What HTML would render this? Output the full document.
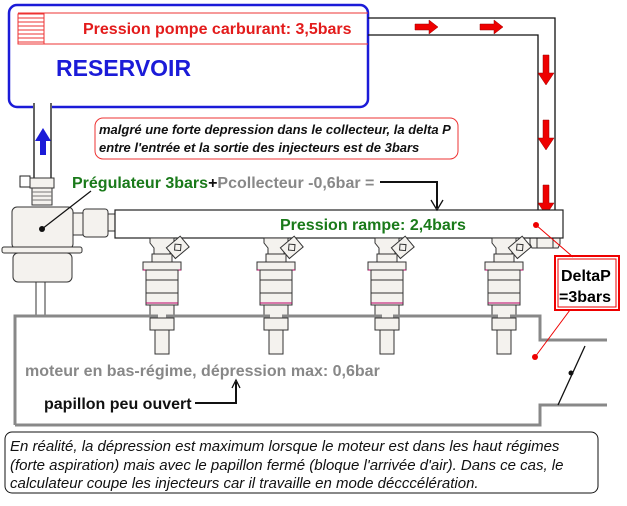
<!DOCTYPE html>
<html><head><meta charset="utf-8"><style>
html,body{margin:0;padding:0;background:#fff}
svg{display:block}
text{font-family:"Liberation Sans",sans-serif}
</style></head><body>
<svg width="627" height="506" viewBox="0 0 627 506" xmlns="http://www.w3.org/2000/svg">
<defs>
<g id="inj">
  <path d="M-12,238 h24 v5 l-4,5 v6 h-16 v-6 l-4,-5z" fill="#f4f2ee" stroke="#333" stroke-width="1"/>
  <rect x="-10" y="254" width="20" height="8" fill="#f4f2ee" stroke="#333"/>
  <g transform="translate(15,248) rotate(-40)"><rect x="-8" y="-7" width="18" height="14" fill="#f4f2ee" stroke="#333"/><rect x="-2" y="-3" width="6" height="6" fill="none" stroke="#333" transform="rotate(45 1 0)"/></g>
  <rect x="-19" y="262" width="38" height="8" fill="#f4f2ee" stroke="#333"/>
  <line x1="-19" y1="270" x2="19" y2="270" stroke="#b06" stroke-width="1"/>
  <rect x="-16" y="270" width="32" height="35" fill="#f4f2ee" stroke="#333"/>
  <line x1="-16" y1="280" x2="16" y2="280" stroke="#333"/>
  <line x1="-16" y1="293" x2="16" y2="293" stroke="#333"/>
  <line x1="-16" y1="303" x2="16" y2="303" stroke="#b06"/>
  <rect x="-12" y="305" width="24" height="25" fill="#f4f2ee" stroke="#333"/>
  <line x1="-12" y1="318" x2="12" y2="318" stroke="#333"/>
  <rect x="-7" y="330" width="14" height="24" fill="#f4f2ee" stroke="#333"/>
</g>
<g id="ra"><path d="M0,-3 h14 v-4 l9,7 l-9,7 v-4 h-14z" fill="#e00" stroke="#900" stroke-width=".5"/></g>
<g id="da"><path d="M-3,0 v18 h-5 l8,12 l8,-12 h-5 v-18z" fill="#e00" stroke="#900" stroke-width=".5"/></g>
</defs>

<!-- reservoir -->
<rect x="9" y="5" width="359" height="102" rx="8" fill="#fff" stroke="#1b1bd8" stroke-width="2.5"/>
<line x1="18" y1="13" x2="368" y2="13" stroke="#e33" stroke-width="1"/>
<line x1="18" y1="44" x2="368" y2="44" stroke="#e33" stroke-width="1"/>
<rect x="18" y="14" width="26" height="30" fill="#fff" stroke="#e33"/>
<g stroke="#e33" stroke-width="1"><line x1="18" y1="18" x2="44" y2="18"/><line x1="18" y1="22" x2="44" y2="22"/><line x1="18" y1="26" x2="44" y2="26"/><line x1="18" y1="30" x2="44" y2="30"/><line x1="18" y1="34" x2="44" y2="34"/><line x1="18" y1="38" x2="44" y2="38"/><line x1="18" y1="42" x2="44" y2="42"/></g>
<text x="83" y="34" font-size="16" font-weight="bold" fill="#e31b1b">Pression pompe carburant: 3,5bars</text>
<text x="56" y="76" font-size="23" font-weight="bold" fill="#1b1bd8">RESERVOIR</text>

<!-- pipe to rail -->
<path d="M368,18 H555 V225" fill="none" stroke="#111" stroke-width="1.3"/>
<path d="M368,35 H538 V225" fill="none" stroke="#111" stroke-width="1.3"/>
<use href="#ra" x="415" y="27"/><use href="#ra" x="480" y="27"/>
<use href="#da" x="546" y="55"/><use href="#da" x="546" y="120"/><use href="#da" x="546" y="185"/>
<path d="M532,222 h26 l2,4 v18 l-2,4 h-26 l-2,-4 v-18z" fill="#f4f2ee" stroke="#333"/>
<line x1="537" y1="222" x2="537" y2="248" stroke="#333"/><line x1="553" y1="222" x2="553" y2="248" stroke="#333"/>

<!-- return pipe -->
<rect x="33" y="103" width="19" height="78" fill="#fff" stroke="none"/>
<line x1="34" y1="103" x2="34" y2="180" stroke="#111" stroke-width="1.3"/>
<line x1="51" y1="103" x2="51" y2="180" stroke="#111" stroke-width="1.3"/>
<path d="M40,155 v-14 h-5 l8,-13 l8,13 h-5 v14z" fill="#1b1bd8"/>
<rect x="20" y="176" width="10" height="11" fill="#fff" stroke="#222"/>
<rect x="30" y="178" width="24" height="10" fill="#f4f2ee" stroke="#333"/>
<rect x="32" y="188" width="20" height="17" fill="#f4f2ee" stroke="#333"/>
<g stroke="#777"><line x1="32" y1="192" x2="52" y2="192"/><line x1="32" y1="196" x2="52" y2="196"/><line x1="32" y1="200" x2="52" y2="200"/></g>

<!-- regulator -->
<rect x="12" y="207" width="61" height="42" rx="5" fill="#f4f2ee" stroke="#333"/>
<rect x="2" y="247" width="80" height="6" rx="2" fill="#f4f2ee" stroke="#333"/>
<rect x="13" y="253" width="59" height="29" rx="5" fill="#f4f2ee" stroke="#333"/>
<rect x="36" y="282" width="9" height="35" fill="#fff" stroke="#333"/>
<rect x="73" y="213" width="10" height="22" fill="#f4f2ee" stroke="#333"/>
<rect x="83" y="209" width="25" height="28" rx="3" fill="#f4f2ee" stroke="#333"/>
<rect x="108" y="214" width="7" height="17" fill="#f4f2ee" stroke="#333"/>
<line x1="42" y1="229" x2="91" y2="191" stroke="#111" stroke-width="1.2"/>
<circle cx="42" cy="229" r="3" fill="#111"/>

<!-- rail -->
<rect x="115" y="210" width="448" height="28" fill="#fff" stroke="#222" stroke-width="1.2"/>
<text x="280" y="230" font-size="16" font-weight="bold" fill="#1a7a1a">Pression rampe:  2,4bars</text>

<!-- injectors -->
<use href="#inj" x="162"/><use href="#inj" x="276"/><use href="#inj" x="387"/><use href="#inj" x="504"/>

<!-- manifold -->
<path d="M15,425 V316 H158 M166,316 H270 M282,316 H382 M393,316 H498 M510,316 H540 V340 H607" fill="none" stroke="#888" stroke-width="3"/>
<path d="M15,425 H540 V405 H607" fill="none" stroke="#888" stroke-width="3"/>
<line x1="585" y1="346" x2="558" y2="405" stroke="#111" stroke-width="1.3"/>
<circle cx="571" cy="373" r="2.5" fill="#111"/>

<!-- deltaP -->
<rect x="555" y="256" width="64" height="54" fill="#fff" stroke="#e00" stroke-width="2"/>
<rect x="558" y="259" width="58" height="48" fill="none" stroke="#e00" stroke-width="1"/>
<text x="561" y="281" font-size="16" font-weight="bold">DeltaP</text>
<text x="559" y="302" font-size="16" font-weight="bold">=3bars</text>
<line x1="536" y1="225" x2="573" y2="257" stroke="#e00" stroke-width="1"/>
<circle cx="536" cy="225" r="3" fill="#e00"/>
<line x1="570" y1="310" x2="535" y2="357" stroke="#e00" stroke-width="1"/>
<circle cx="535" cy="357" r="3" fill="#e00"/>

<!-- callout -->
<rect x="95" y="118" width="363" height="41" rx="8" fill="#fff" stroke="#e33" stroke-width="1"/>
<text x="99" y="134" font-size="13" font-style="italic" font-weight="bold" fill="#111">malgré une forte depression dans le collecteur, la delta P</text>
<text x="99" y="152" font-size="13" font-style="italic" font-weight="bold" fill="#111">entre l'entrée et la sortie des injecteurs est de 3bars</text>

<text x="72" y="188" font-size="16" font-weight="bold"><tspan fill="#1a7a1a">Prégulateur 3bars</tspan><tspan fill="#111">+</tspan><tspan fill="#888">Pcollecteur -0,6bar =</tspan></text>
<path d="M380,182 H437 V208" fill="none" stroke="#111" stroke-width="2"/>
<path d="M431,200 L437,210 L443,200" fill="none" stroke="#111" stroke-width="1.3"/>

<text x="25" y="376" font-size="16" font-weight="bold" fill="#888">moteur en bas-régime, dépression max: 0,6bar</text>
<text x="44" y="409" font-size="16" font-weight="bold" fill="#111">papillon peu ouvert</text>
<path d="M195,403 H236 V382" fill="none" stroke="#111" stroke-width="2"/>
<path d="M232,388 L236,380 L240,388" fill="none" stroke="#111" stroke-width="1.3"/>

<!-- bottom -->
<rect x="5" y="432" width="593" height="61" rx="7" fill="#fff" stroke="#111" stroke-width="1"/>
<text x="10" y="451" font-size="15" font-style="italic" fill="#111">En réalité, la dépression est maximum lorsque le moteur est dans les haut régimes</text>
<text x="10" y="470" font-size="15" font-style="italic" fill="#111">(forte aspiration) mais avec le papillon fermé (bloque l'arrivée d'air).  Dans ce cas, le</text>
<text x="10" y="488" font-size="15" font-style="italic" fill="#111">calculateur coupe les injecteurs  car il travaille en mode décccélération.</text>
</svg>
</body></html>
